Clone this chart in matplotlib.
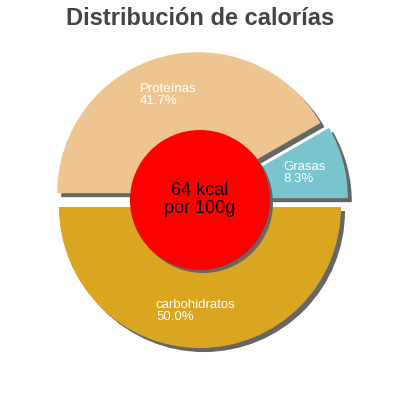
import matplotlib
matplotlib.use("Agg")
import matplotlib.pyplot as plt
import matplotlib.transforms as mtransforms
from matplotlib.patches import Circle, Wedge

plt.rcParams['font.family'] = ['Liberation Sans', 'DejaVu Sans']

# data
labels = ["Grasas", "Proteínas", "carbohidratos"]
percents = [8.3, 41.7, 50.0]
colors = ["#7AC5CD", "#EEC591", "#DAA520"]
center_text = ["64 kcal", "por 100g"]
title = "Distribución de calorías"

# label anchor points in pixels (left, first baseline)
label_pos = [(283, 169.5), (140, 92), (156, 308)]

R = 141.0  # pie radius in pixels
def px(x, y):
    return (x - 200) / R, (200 - y) / R

fig = plt.figure(figsize=(4, 4), dpi=100)
ax = fig.add_axes([0, 0, 1, 1])

wedges, _ = ax.pie(percents, colors=colors, startangle=0, counterclock=True,
                   explode=[0.05] * len(percents), radius=1.0,
                   wedgeprops=dict(linewidth=0))

lim = 200 / R
ax.set_xlim(-lim, lim)
ax.set_ylim(-lim, lim)
ax.set_aspect('equal')
ax.axis('off')

# shadows: gray copies shifted right/down
shift = ax.transData + mtransforms.ScaledTranslation(4 / 100, -4 / 100, fig.dpi_scale_trans)
for w in wedges:
    s = Wedge(w.center, w.r, w.theta1, w.theta2, facecolor='#666666',
              edgecolor='none', zorder=0.5, transform=shift)
    ax.add_patch(s)

hole_r = 70 / R
shift2 = ax.transData + mtransforms.ScaledTranslation(3 / 100, -3 / 100, fig.dpi_scale_trans)
ax.add_patch(Circle((0, 0), hole_r, facecolor='#666666', edgecolor='none',
                    zorder=2.5, transform=shift2))
ax.add_patch(Circle((0, 0), hole_r, facecolor='#FF0000', edgecolor='none', zorder=3))

for lab, p, (x, y) in zip(labels, percents, label_pos):
    ax.text(*px(x, y), lab, color='white', fontsize=9.5, ha='left', va='baseline', zorder=4)
    ax.text(*px(x, y + 12), f"{p:.1f}%", color='white', fontsize=9.5, ha='left', va='baseline', zorder=4)

ax.text(*px(200, 195), center_text[0], fontsize=13, ha='center', va='baseline', zorder=4)
ax.text(*px(200, 213), center_text[1], fontsize=13, ha='center', va='baseline', zorder=4)

ax.text(*px(200, 25), title, fontsize=17, fontweight='bold', color='#444444',
        ha='center', va='baseline')

fig.savefig('out.png', dpi=100)
